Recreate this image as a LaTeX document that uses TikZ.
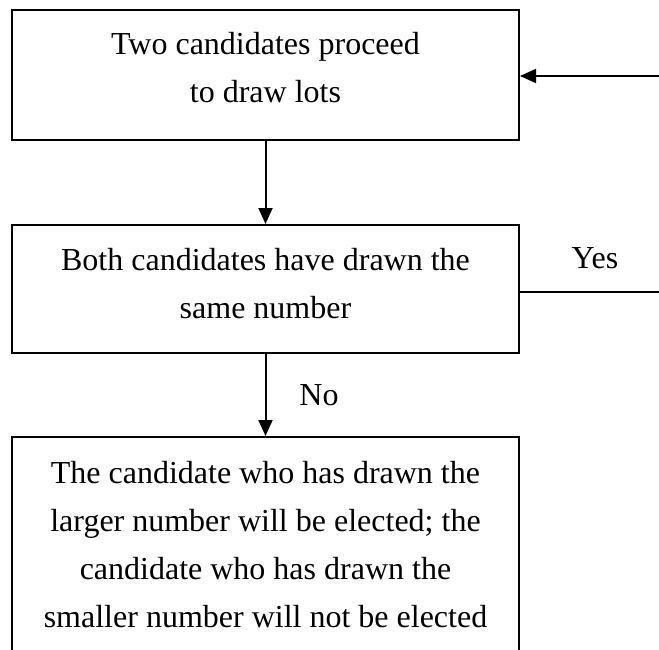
\documentclass[tikz,border=0pt]{standalone}
\usepackage{fontspec}
\setmainfont{Liberation Serif}
\usetikzlibrary{arrows.meta}
\begin{document}
\begin{tikzpicture}[x=1pt,y=-1pt,
  box/.style={draw, line width=2pt, minimum width=507pt, inner sep=0pt},
  txt/.style={font=\fontsize{32}{48}\selectfont, align=center, inner sep=0pt, anchor=base},
  arr/.style={line width=2pt, -{Triangle[length=16pt,width=14pt]}},
  thinline/.style={line width=1.2pt}]
\useasboundingbox (0,0) rectangle (659,650);
\clip (0,0) rectangle (659,650);
% boxes
\node[box, minimum height=130pt] (b1) at (265.5,75) {};
\node[box, minimum height=128pt] (b2) at (265.5,289) {};
\node[box, minimum height=250pt] (b3) at (265.5,562) {};
% texts (base = last line)
\node[txt] (t1) at (265.5,103) {Two candidates proceed\\to draw lots};
\node[txt] (t2) at (265.5,318) {Both candidates have drawn the\\same number};
\node[txt] (t3) at (265.5,627) {The candidate who has drawn the\\larger number will be elected; the\\candidate who has drawn the\\smaller number will not be elected};
% connectors
\draw[arr] (b1.south) -- (b2.north);
\draw[arr] (b2.south) -- (b3.north);
\node[txt] (no) at (319,405) {No};
\coordinate (inR) at (659,76);
\draw[arr] (inR) -- (b1.east |- inR);
\coordinate (yesR) at (659,292);
\draw[thinline] (b2.east |- yesR) -- (yesR);
\node[txt] (yes) at (595,268) {Yes};
\end{tikzpicture}
\end{document}
